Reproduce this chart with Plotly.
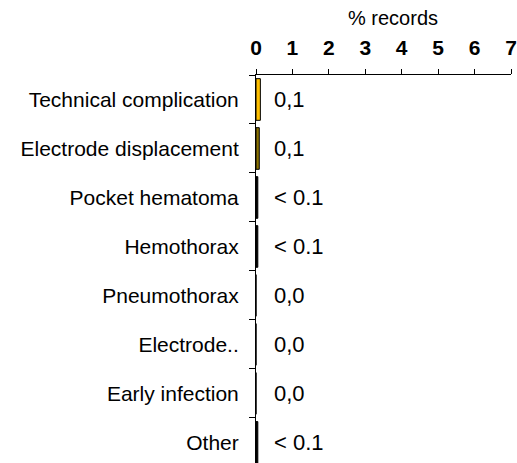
import plotly.graph_objects as go

categories = ["Technical complication", "Electrode displacement", "Pocket hematoma",
              "Hemothorax", "Pneumothorax", "Electrode..", "Early infection", "Other"]
values = [0.12, 0.09, 0.05, 0.05, 0.0, 0.0, 0.0, 0.05]
value_labels = ["0,1", "0,1", "< 0.1", "< 0.1", "0,0", "0,0", "0,0", "< 0.1"]
bar_colors = ["#FFC000", "#8C7300", "#000000", "#000000", "#000000", "#000000", "#000000", "#000000"]
tick_vals = [0, 1, 2, 3, 4, 5, 6, 7]

FONT = "Liberation Sans, Arial, sans-serif"

fig = go.Figure()
fig.add_trace(go.Bar(
    y=categories, x=values, orientation="h",
    marker=dict(color=bar_colors, line=dict(color="black", width=1)),
    width=0.85, showlegend=False, hoverinfo="x+y",
))

for cat, lab in zip(categories, value_labels):
    fig.add_annotation(x=0.45, y=cat, text=lab, xanchor="left", yanchor="middle",
                       showarrow=False, font=dict(family=FONT, size=22, color="black"))

fig.add_annotation(x=0.537, y=1.0, xref="paper", yref="paper", yshift=44,
                   text="% records", showarrow=False, xanchor="center", yanchor="bottom",
                   font=dict(family=FONT, size=20, color="black"))

fig.update_layout(
    width=517, height=463,
    margin=dict(l=256, r=4, t=75, b=0),
    paper_bgcolor="white", plot_bgcolor="white",
    font=dict(family=FONT, size=20, color="black"),
    xaxis=dict(side="top", range=[0, 7], tickvals=tick_vals,
               tickfont=dict(family=FONT, size=21, color="black", weight="bold"),
               showgrid=False, zeroline=False, showline=True, linecolor="black", linewidth=1,
               ticks="outside", ticklen=5, tickcolor="black", ticklabelstandoff=6,
               ticklabeloverflow="allow"),
    yaxis=dict(categoryorder="array", categoryarray=categories,
               range=[7.42, -0.5], showgrid=False, zeroline=False,
               showline=True, linecolor="black", linewidth=1,
               ticks="outside", ticklen=6, tickcolor="black", tickson="boundaries",
               tickfont=dict(family=FONT, size=21, color="black"), ticklabelstandoff=12),
)

fig.write_html("out.html", config={"displayModeBar": False},
               post_script="document.body.style.margin='0';document.body.style.overflow='hidden';")
